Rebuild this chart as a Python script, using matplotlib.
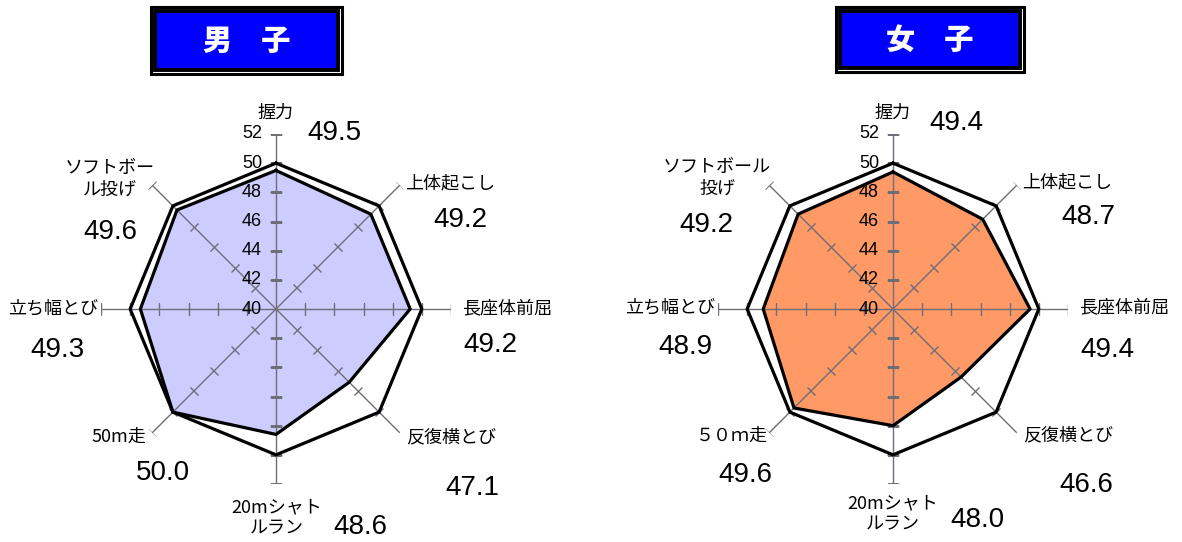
"""Radar charts of fitness test scores (boys / girls)."""
import numpy as np
import matplotlib
matplotlib.use('Agg')
import matplotlib.pyplot as plt
from matplotlib.patches import Rectangle
from matplotlib.markers import MarkerStyle

plt.rcParams['font.family'] = ['Noto Sans CJK JP', 'DejaVu Sans']

W, H = 1182, 542

categories = ['握力', '上体起こし', '長座体前屈', '反復横とび',
              '20mシャトルラン', '50m走', '立ち幅とび', 'ソフトボール投げ']
boys = [49.5, 49.2, 49.2, 47.1, 48.6, 50.0, 49.3, 49.6]
girls = [49.4, 48.7, 49.4, 46.6, 48.0, 49.6, 48.9, 49.2]
reference = [50.0] * 8
r_ticks = [40, 42, 44, 46, 48, 50, 52]

# label texts as printed on each chart
boys_labels = ['握力', '上体起こし', '長座体前屈', '反復横とび',
               '20mシャト\nルラン', '50m走', '立ち幅とび', 'ソフトボー\nル投げ']
girls_labels = ['握力', '上体起こし', '長座体前屈', '反復横とび',
                '20mシャト\nルラン', '５０ｍ走', '立ち幅とび', 'ソフトボール\n投げ']

# pixel positions (image coords) of category labels and value labels
boys_label_pos = [(276, 113), (450, 183), (507, 308), (451, 437),
                  (277, 518), (119, 437), (53, 308), (110, 179)]
boys_value_pos = [(334, 133), (460, 220), (490, 345), (472, 488),
                  (360, 527), (163, 473), (57, 350), (110, 232)]
girls_label_pos = [(893, 113), (1067, 182), (1124, 307), (1068, 435),
                   (893, 514), (732, 436), (670, 307), (717, 178)]
girls_value_pos = [(956, 123), (1088, 217), (1107, 350), (1086, 485),
                   (977, 520), (745, 475), (685, 347), (706, 225)]


def fx(x):
    return x / W


def fy(y):
    return 1 - y / H


def radar(fig, cx, cy, values, fill_color, labels, label_pos, value_pos):
    R = 175
    ax = fig.add_axes([fx(cx - R), fy(cy + R), 2 * R / W, 2 * R / H],
                      projection='polar')
    ax.set_theta_offset(np.pi / 2)
    ax.set_theta_direction(-1)
    ax.set_ylim(40, 52)
    ax.grid(False)
    ax.set_xticks([])
    ax.set_yticks([])
    ax.spines['polar'].set_visible(False)
    ax.patch.set_alpha(0)

    n = len(values)
    theta = np.arange(n) * 2 * np.pi / n
    tc = np.append(theta, theta[0])

    ax.fill(tc, np.append(values, values[0]), color=fill_color, lw=0, zorder=1)

    for t in theta:
        ax.plot([t, t], [40, 52], color='#6e6e78', lw=1, zorder=2)
        mk = MarkerStyle('_').rotated(deg=-np.degrees(t))
        ax.plot([t] * (len(r_ticks) - 1), r_ticks[1:], ls='none',
                marker=mk, ms=8, mew=1, color='#6e6e78', zorder=2)

    ax.plot(tc, np.append(reference, reference[0]), color='black', lw=2.3,
            zorder=3)
    ax.plot(tc, np.append(values, values[0]), color='black', lw=2.3, zorder=4)

    for v in r_ticks:
        ax.annotate(str(v), xy=(0, v), xytext=(-10, 0),
                    textcoords='offset points', ha='right', va='center',
                    fontsize=13, family='Liberation Sans', zorder=5)

    for lab, (x, y) in zip(labels, label_pos):
        fig.text(fx(x), fy(y), lab, ha='center', va='center', fontsize=13,
                 linespacing=1.25)
    for v, (x, y) in zip(values, value_pos):
        fig.text(fx(x), fy(y), f'{v:.1f}', ha='center', va='center',
                 fontsize=20, family='Liberation Sans')


def title_box(fig, x0, y0, x1, y1, text):
    fig.patches.append(Rectangle((fx(x0), fy(y1)), fx(x1 - x0), (y1 - y0) / H,
                                 transform=fig.transFigure, facecolor='white',
                                 edgecolor='black', lw=2.2))
    fig.patches.append(Rectangle((fx(x0 + 4), fy(y1 - 4)), fx(x1 - x0 - 8),
                                 (y1 - y0 - 8) / H, transform=fig.transFigure,
                                 facecolor='#0000ff', edgecolor='black', lw=2.8))
    fig.text(fx((x0 + x1) / 2), fy((y0 + y1) / 2 + 1), text, ha='center',
             va='center', color='white', fontsize=21, fontweight='heavy')


fig = plt.figure(figsize=(W / 100, H / 100), dpi=100)
fig.patch.set_facecolor('white')

title_box(fig, 151, 7, 342, 74, '男　子')
title_box(fig, 836, 7, 1024, 72, '女　子')

radar(fig, 276, 309, boys, '#ccccff', boys_labels, boys_label_pos, boys_value_pos)
radar(fig, 893, 309, girls, '#ff9966', girls_labels, girls_label_pos, girls_value_pos)

fig.savefig('out.png', dpi=100)
